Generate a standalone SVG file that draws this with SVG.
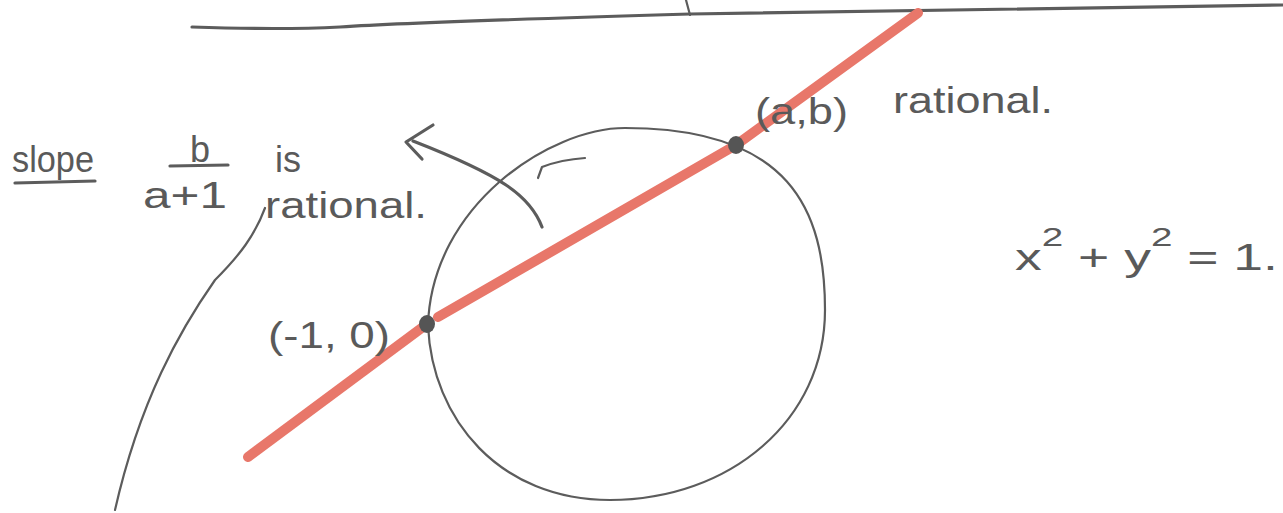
<svg xmlns="http://www.w3.org/2000/svg" width="1283" height="513" viewBox="0 0 1283 513">
<style>
.ink{fill:none;stroke:#5c5c5c;stroke-width:2.2;stroke-linecap:round;stroke-linejoin:round}
.thick{fill:none;stroke:#5c5c5c;stroke-width:3.2;stroke-linecap:round;stroke-linejoin:round}
.red{fill:none;stroke:#e8776a;stroke-width:10;stroke-linecap:round;stroke-linejoin:round}
.dot{fill:#555}
.t{font-family:"Liberation Sans",Arial,sans-serif;fill:#5a5a5a;font-size:36px}
</style>
<rect width="1283" height="513" fill="#fff"/>
<g id="top-rule">
<path class="thick" d="M192,27 C250,29 300,29 340,27 C420,22 520,19 690,14 C800,11 1000,8 1283,5"/>
<path class="ink" d="M686,0 L690,15"/>
</g>
<g id="circle">
<path class="ink" d="M428,325 C432,205 550,128 625,128 C790,128 825,210 825,310 C825,420 730,500 610,500 C500,500 432,420 428,325 Z"/>
<path class="ink" d="M538,178 L542,167 C555,162 570,159 585,158"/>
</g>
<g id="line">
<path class="red" d="M248,457 L427,324"/>
<path class="red" d="M438,317 L736,145 L918,13"/>
</g>
<g id="points">
<ellipse class="dot" cx="427" cy="324" rx="8" ry="9"/>
<ellipse class="dot" cx="736" cy="145" rx="8" ry="9"/>
</g>
<g id="connectors">
<path class="thick" d="M542,227 C530,195 500,175 413,141"/>
<path class="thick" d="M433,125 L406,142 L422,159"/>
<path class="ink" d="M265,208 C255,235 240,255 215,280 C180,330 140,400 115,510"/>
</g>
<g id="slope-label">
<text class="t" x="12" y="172" font-size="38" textLength="82" lengthAdjust="spacingAndGlyphs">slope</text>
<path class="thick" d="M15,183 L95,181"/>
<text class="t" x="190" y="162" font-size="32">b</text>
<path class="thick" d="M170,166 L228,165"/>
<text class="t" x="143" y="208" textLength="84" lengthAdjust="spacingAndGlyphs">a+1</text>
<text class="t" x="275" y="172">is</text>
<text class="t" x="265" y="218" textLength="162" lengthAdjust="spacingAndGlyphs">rational.</text>
</g>
<g id="ab-label">
<text class="t" x="755" y="124" font-size="42" textLength="93" lengthAdjust="spacingAndGlyphs">(a,b)</text>
<text class="t" x="893" y="113" textLength="160" lengthAdjust="spacingAndGlyphs">rational.</text>
</g>
<g id="minus1-label">
<text class="t" x="268" y="348" font-size="40" textLength="122" lengthAdjust="spacingAndGlyphs">(-1, 0)</text>
</g>
<g id="equation">
<text class="t" x="1015" y="270" font-size="42" textLength="263" lengthAdjust="spacingAndGlyphs">x<tspan font-size="26" dy="-24">2</tspan><tspan dy="24"> + y</tspan><tspan font-size="26" dy="-24">2</tspan><tspan dy="24"> = 1.</tspan></text>
</g>
</svg>
